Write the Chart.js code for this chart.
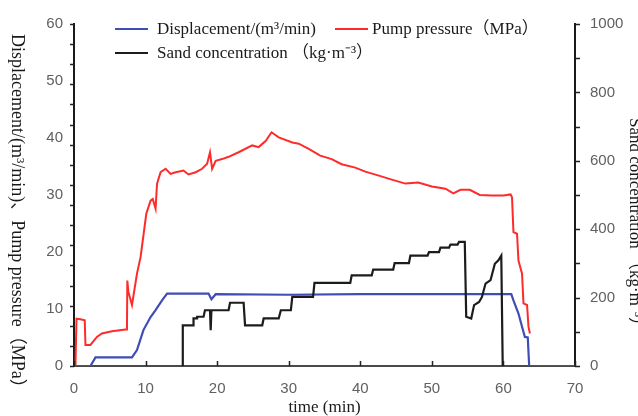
<!DOCTYPE html>
<html>
<head>
<meta charset="utf-8">
<script src="https://cdn.jsdelivr.net/npm/chart.js@4.4.1/dist/chart.umd.min.js"></script>
<style>
html, body { margin: 0; padding: 0; background: #fff; }
#wrap { width: 638px; height: 416px; position: relative; }
</style>
</head>
<body>
<div id="wrap"><canvas id="c"></canvas></div>
<script>
// displacement (m3/min) vs time (min)
var dispTime = [0, 2.3, 3.0, 8.1, 8.8, 9.7, 10.7, 11.4, 12.3, 13.0, 18.8, 19.2, 19.8, 30, 40, 50, 61.1, 61.4, 62.1, 62.6, 63.0, 63.4, 63.6, 70];
var dispVal  = [0, 0, 1.5, 1.5, 2.8, 6.3, 8.6, 9.8, 11.5, 12.7, 12.7, 11.7, 12.6, 12.5, 12.6, 12.6, 12.6, 11.5, 9.2, 6.9, 5.1, 5.0, 0, 0];

// pump pressure (MPa) vs time (min)
var presTime = [0.2, 0.35, 0.9, 1.5, 1.6, 2.3, 3.2, 3.9, 5.3, 7.2, 7.4, 7.45, 7.6, 8.1, 8.8, 9.3, 10.1, 10.7, 11.0, 11.4, 11.6, 12.1, 12.8, 13.5, 14.2, 15.3, 16.0, 17.0, 17.9, 18.6, 19.0, 19.3, 19.8, 20.7, 21.6, 23.0, 24.9, 25.8, 26.8, 27.6, 28.6, 30.5, 31.4, 32.8, 34.4, 36.0, 37.4, 39.3, 40.7, 42.6, 44.4, 46.3, 48.1, 50.0, 51.9, 53.0, 54.0, 55.3, 56.7, 58.4, 60.0, 61.0, 61.2, 61.4, 61.9, 62.1, 62.6, 62.8, 63.3, 63.5, 63.7];
var presVal  = [0, 8.3, 8.2, 8.0, 3.7, 3.7, 5.1, 5.7, 6.1, 6.4, 6.4, 15.0, 13.0, 10.7, 16.2, 19.1, 26.7, 29.0, 29.3, 27.6, 32.0, 34.0, 34.6, 33.7, 34.0, 34.3, 33.6, 34.0, 34.6, 35.5, 37.5, 34.6, 36.0, 36.3, 36.7, 37.5, 38.7, 38.4, 39.5, 41.0, 40.1, 39.2, 39.0, 38.1, 36.9, 36.3, 35.4, 34.8, 34.1, 33.4, 32.7, 32.0, 32.2, 31.5, 31.1, 30.3, 30.9, 30.9, 30.0, 29.9, 29.9, 30.1, 29.6, 23.5, 23.2, 18.5, 16.2, 11.0, 10.7, 6.9, 5.7];

// sand concentration (kg/m3) vs time (min)
var sandTime = [15.2, 15.2, 16.7, 16.7, 17.2, 17.2, 18.1, 18.3, 19.0, 19.1, 19.2, 21.6, 21.8, 23.7, 23.9, 26.3, 26.5, 28.6, 28.9, 30.3, 30.5, 33.4, 33.6, 38.6, 38.8, 41.6, 41.8, 44.6, 44.8, 46.8, 47.0, 49.4, 49.6, 51.0, 51.2, 52.4, 52.6, 53.6, 53.8, 54.6, 54.8, 55.5, 55.9, 56.6, 57.0, 57.5, 58.2, 58.8, 59.3, 59.7, 59.9];
var sandVal  = [0, 119, 119, 139, 139, 144, 144, 163, 163, 105, 163, 163, 185, 185, 119, 119, 139, 139, 163, 163, 202, 202, 243, 243, 265, 265, 282, 282, 301, 301, 323, 323, 333, 333, 346, 346, 355, 355, 363, 363, 144, 139, 178, 187, 202, 241, 251, 299, 309, 323, 0];

var xTickVals = [0, 10, 20, 30, 40, 50, 60, 70];
var leftTickVals = [0, 10, 20, 30, 40, 50, 60];
var rightTickVals = [0, 200, 400, 600, 800, 1000];

var labels = {
  disp: 'Displacement/(m³/min)',
  pres: 'Pump pressure（MPa）',
  sand: 'Sand concentration （kg·m⁻³）',
  left: 'Displacement/(m³/min)、Pump pressure（MPa）',
  right: 'Sand concentration （kg·m⁻³）',
  x: 'time (min)'
};

function pts(xs, ys) {
  return xs.map(function (x, i) { return { x: x, y: ys[i] }; });
}

var SERIF = '"Liberation Serif", "Times New Roman", "Noto Sans CJK SC", serif';
var SANS = '"Liberation Sans", Arial, sans-serif';

var extras = {
  id: 'extras',
  afterDraw: function (chart) {
    var ctx = chart.ctx, a = chart.chartArea;
    var sx = chart.scales.x, sy = chart.scales.y, sy1 = chart.scales.y1;
    ctx.save();
    // tick marks
    ctx.strokeStyle = '#222';
    ctx.lineWidth = 1.5;
    ctx.beginPath();
    for (var i = 0; i <= 17; i++) {
      var py = Math.round(sy.getPixelForValue(i * 60 / 17)) + 0.5;
      ctx.moveTo(a.left - 4, py); ctx.lineTo(a.left, py);
    }
    for (var v = 0; v <= 1000; v += 100) {
      var py2 = Math.round(sy1.getPixelForValue(v)) + 0.5;
      ctx.moveTo(a.right, py2); ctx.lineTo(a.right + 5, py2);
    }
    xTickVals.forEach(function (t) {
      var px = Math.round(sx.getPixelForValue(t)) + 0.5;
      ctx.moveTo(px, a.bottom); ctx.lineTo(px, a.bottom - 5);
    });
    ctx.stroke();

    // legend
    var ds = chart.data.datasets;
    var items = [
      { d: ds[0], x: 115, y: 29, gap: 9 },
      { d: ds[1], x: 335, y: 29, gap: 4 },
      { d: ds[2], x: 115, y: 53, gap: 9 }
    ];
    ctx.font = '17px ' + SERIF;
    ctx.textBaseline = 'middle';
    ctx.textAlign = 'left';
    items.forEach(function (it) {
      ctx.strokeStyle = it.d.borderColor;
      ctx.lineWidth = 2;
      ctx.beginPath();
      ctx.moveTo(it.x, it.y); ctx.lineTo(it.x + 33, it.y);
      ctx.stroke();
      ctx.fillStyle = '#1a1a1a';
      ctx.fillText(it.d.label, it.x + 33 + it.gap, it.y + 1);
    });

    // y titles, reading top to bottom
    ctx.fillStyle = '#1a1a1a';
    ctx.save();
    ctx.font = '18px ' + SERIF;
    ctx.translate(17, 34);
    ctx.rotate(Math.PI / 2);
    ctx.fillText(labels.left, 0, 0);
    ctx.restore();
    ctx.save();
    ctx.translate(634, 118);
    ctx.rotate(Math.PI / 2);
    ctx.fillText(labels.right, 0, 0);
    ctx.restore();
    ctx.restore();
  }
};

var bg = {
  id: 'bg',
  beforeDraw: function (chart) {
    var ctx = chart.ctx;
    ctx.save();
    ctx.fillStyle = '#fff';
    ctx.fillRect(0, 0, chart.width, chart.height);
    ctx.restore();
  }
};

function plain(v) { return String(v); }

new Chart(document.getElementById('c'), {
  type: 'line',
  data: {
    datasets: [
      { label: labels.disp, data: pts(dispTime, dispVal), borderColor: '#3f4db5', borderWidth: 2.2, yAxisID: 'y', order: 3 },
      { label: labels.pres, data: pts(presTime, presVal), borderColor: '#ff2b2b', borderWidth: 2, yAxisID: 'y', order: 2 },
      { label: labels.sand, data: pts(sandTime, sandVal), borderColor: '#1c1c1c', borderWidth: 2.2, yAxisID: 'y1', order: 1 }
    ]
  },
  options: {
    responsive: true,
    maintainAspectRatio: false,
    animation: false,
    devicePixelRatio: 1,
    layout: { padding: { top: 23, left: 0, right: 0, bottom: 0 } },
    elements: { point: { radius: 0 }, line: { tension: 0 } },
    plugins: { legend: { display: false }, tooltip: { enabled: false } },
    scales: {
      x: {
        type: 'linear', min: 0, max: 70,
        afterBuildTicks: function (s) { s.ticks = xTickVals.map(function (v) { return { value: v }; }); },
        afterFit: function (s) { s.height = 50; },
        ticks: { padding: 14, color: '#606060', font: { family: SANS, size: 15 }, callback: plain },
        grid: { display: false, drawTicks: false },
        border: { display: true, color: '#4a4a4a', width: 2 },
        title: { display: true, text: labels.x, color: '#1a1a1a', font: { family: SERIF, size: 17, lineHeight: 1 }, padding: { top: 0, bottom: 0 } }
      },
      y: {
        position: 'left', min: 0, max: 60,
        afterBuildTicks: function (s) { s.ticks = leftTickVals.map(function (v) { return { value: v }; }); },
        afterFit: function (s) { s.width = 74; },
        ticks: { padding: 11, color: '#606060', font: { family: SANS, size: 15 }, callback: plain },
        grid: { display: false, drawTicks: false },
        border: { display: true, color: '#1a1a1a', width: 2 }
      },
      y1: {
        position: 'right', min: 0, max: 1000,
        afterBuildTicks: function (s) { s.ticks = rightTickVals.map(function (v) { return { value: v }; }); },
        afterFit: function (s) { s.width = 63; },
        ticks: { padding: 15, color: '#606060', font: { family: SANS, size: 15 }, callback: plain },
        grid: { display: false, drawTicks: false },
        border: { display: true, color: '#1a1a1a', width: 2 }
      }
    }
  },
  plugins: [bg, extras]
});
</script>
</body>
</html>
